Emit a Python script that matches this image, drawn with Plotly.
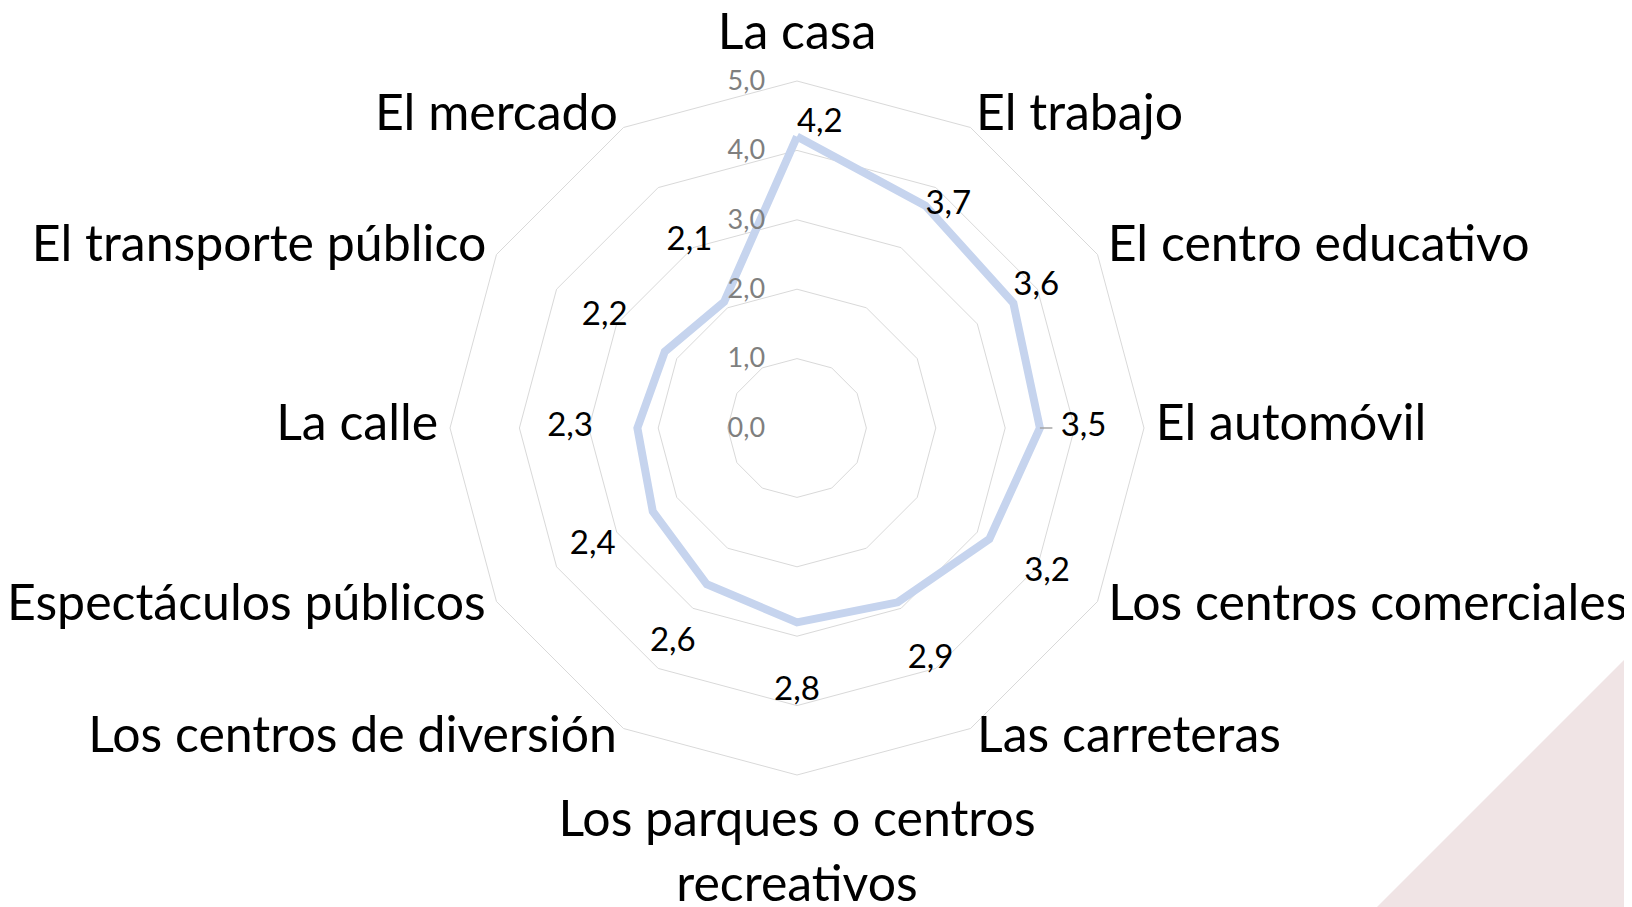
import plotly.graph_objects as go

categories = ["La casa", "El trabajo", "El centro educativo", "El automóvil",
              "Los centros comerciales", "Las carreteras",
              "Los parques o centros<br>recreativos", "Los centros de diversión",
              "Espectáculos públicos", "La calle", "El transporte público", "El mercado"]
values = [4.2, 3.7, 3.6, 3.5, 3.2, 2.9, 2.8, 2.6, 2.4, 2.3, 2.2, 2.1]
radial_ticks = [0, 1, 2, 3, 4, 5]

# value-label placement styling (radial offset from each point, and text anchor)
label_offsets = [0.19, 0.0, 0.0, 0.63, 0.96, 0.95, 1.0, 0.98, 1.0, 0.97, 1.0, 1.0]
label_positions = ["middle right", "middle right", "top right", "middle center",
                   "middle center", "middle center", "middle center", "middle center",
                   "middle center", "middle center", "middle center", "middle center"]

# category-label placement styling (radial gap beyond outer ring, and text anchor)
cat_gaps = [0.28, 0.16, 0.17, 0.17, 0.18, 0.19, 0.34, 0.19, 0.18, 0.17, 0.17, 0.16]
cat_positions = ["top center", "middle right", "middle right", "middle right",
                 "middle right", "middle right", "bottom center", "middle left",
                 "middle left", "middle left", "middle left", "middle left"]

radial_max = radial_ticks[-1]
plot_rmax = 5.6  # extra room so the category labels live inside the polar scale

W, H = 1632, 907
# page has an 8px body margin, so figure coords are shifted by 8px
cx, cy, R5 = 789, 420, 347
R = R5 * plot_rmax / radial_max

FONT = "Lato, Open Sans, sans-serif"

fig = go.Figure()

fig.add_trace(go.Scatterpolar(
    r=values + values[:1], theta=categories + categories[:1],
    mode="lines", line=dict(color="#c6d4ee", width=8),
    hoverinfo="skip", showlegend=False,
))

# leader line for the "El automóvil" label
fig.add_trace(go.Scatterpolar(
    r=[values[3], values[3] + 0.18], theta=[categories[3]] * 2,
    mode="lines", line=dict(color="#a6a6a6", width=1.5),
    hoverinfo="skip", showlegend=False,
))

fig.add_trace(go.Scatterpolar(
    r=[v + o for v, o in zip(values, label_offsets)], theta=categories,
    mode="text",
    text=[f"{v:.1f}".replace(".", ",") for v in values],
    textposition=label_positions,
    textfont=dict(family=FONT, size=33, color="#000000"),
    hoverinfo="skip", showlegend=False,
))

# category labels
fig.add_trace(go.Scatterpolar(
    r=[radial_max + g for g in cat_gaps], theta=categories,
    mode="text", text=categories, textposition=cat_positions,
    textfont=dict(family=FONT, size=50, color="#000000"),
    cliponaxis=False, hoverinfo="skip", showlegend=False,
))

fig.update_layout(
    width=W, height=H,
    margin=dict(l=0, r=0, t=0, b=0),
    paper_bgcolor="white",
    separators=",.",
    showlegend=False,
    polar=dict(
        domain=dict(x=[(cx - R) / W, (cx + R) / W],
                    y=[(H - cy - R) / H, (H - cy + R) / H]),
        bgcolor="rgba(0,0,0,0)",
        gridshape="linear",
        radialaxis=dict(
            range=[0, plot_rmax], tickvals=radial_ticks,
            ticktext=[f"{t:.1f}".replace(".", ",") for t in radial_ticks],
            angle=90, tickangle=90, side="counterclockwise",
            showline=False, ticks="outside", ticklen=22, tickcolor="rgba(0,0,0,0)",
            gridcolor="#d9d9d9", gridwidth=1.2,
            tickfont=dict(family=FONT, size=27, color="#7f7f7f"),
        ),
        angularaxis=dict(
            direction="clockwise", rotation=90,
            showgrid=False, showline=False,
            ticks="", showticklabels=False,
        ),
    ),
    shapes=[dict(
        type="path", xref="paper", yref="paper",
        path=f"M {1361/W} 0 L 1 {(H-636)/H} L 1 0 Z",
        fillcolor="#f0e4e5", line=dict(width=0), layer="below",
    )],
)

fig.write_html("out.html")
